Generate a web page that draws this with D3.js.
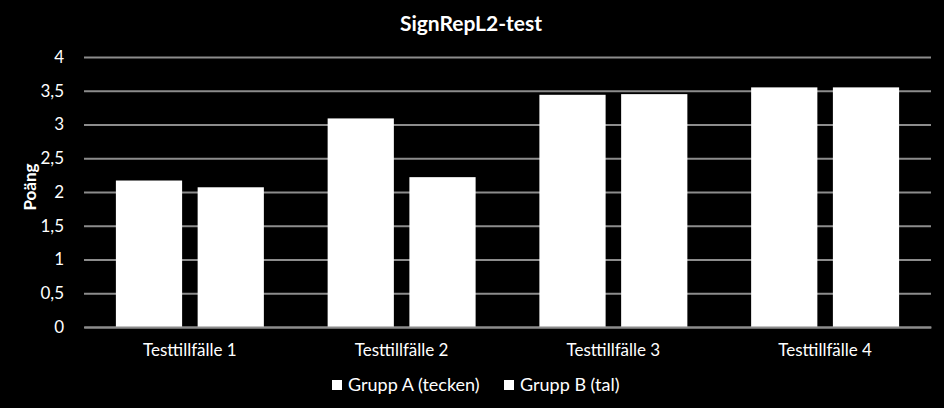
<!DOCTYPE html>
<html><head><meta charset="utf-8">
<script src="https://cdn.jsdelivr.net/npm/d3@7"></script>
<style>html,body{margin:0;padding:0;background:#000;}svg{display:block;}</style>
</head><body>
<svg id="c" width="944" height="408"></svg>
<script>
const categories = ["Testtillfälle 1","Testtillfälle 2","Testtillfälle 3","Testtillfälle 4"];
const seriesNames = ["Grupp A (tecken)","Grupp B (tal)"];
const grupA = [2.17, 3.09, 3.44, 3.55];
const grupB = [2.07, 2.22, 3.45, 3.55];
const yTicks = [0,0.5,1,1.5,2,2.5,3,3.5,4];
const title = "SignRepL2-test";
const yLabel = "Poäng";

const font = "Lato, sans-serif";
const svg = d3.select("#c");
svg.append("rect").attr("width",944).attr("height",408).attr("fill","#000");

const m = {l:84, r:13, t:57, b:81};
const W = 944, H = 408;
const x = d3.scaleBand().domain(categories).range([m.l, W-m.r]).paddingInner(0).paddingOuter(0);
const x1 = d3.scaleBand().domain(seriesNames).range([0, x.bandwidth()]).paddingInner(0.19).paddingOuter(0.39);
const y = d3.scaleLinear().domain([0,4]).range([H-m.b, m.t]);

const fmt = d => String(d).replace(".", ",");
const gy = svg.append("g").attr("transform",`translate(${m.l},0)`)
  .call(d3.axisLeft(y).tickValues(yTicks).tickFormat(fmt).tickSize(-(W-m.l-m.r)).tickPadding(20));
gy.select(".domain").remove();
gy.selectAll(".tick line").attr("stroke","#8c8c8c").attr("stroke-width",2);
gy.selectAll(".tick text").attr("fill","#fff").style("font-family",font).style("font-size","17px");

const data = categories.map((c,i)=>({c, vals:[grupA[i], grupB[i]]}));
const g = svg.append("g");
data.forEach(d=>{
  g.selectAll(null).data(d.vals.map((v,j)=>({s:seriesNames[j], v}))).enter().append("rect")
    .attr("x", e=> x(d.c)+x1(e.s))
    .attr("width", x1.bandwidth())
    .attr("y", e=> y(e.v))
    .attr("height", e=> y(0)-y(e.v))
    .attr("fill","#fff");
});

const gx = svg.append("g").attr("transform",`translate(0,${H-m.b})`)
  .call(d3.axisBottom(x).tickSize(0).tickPadding(17));
gx.select(".domain").attr("stroke","#8c8c8c").attr("stroke-width",2);
gx.selectAll(".tick text").attr("fill","#fff").style("font-family",font).style("font-size","17px");

svg.append("text").attr("x",471).attr("y",31).attr("text-anchor","middle")
  .attr("fill","#fff").style("font-family",font).style("font-size","21px").style("font-weight","bold").text(title);

svg.append("text").attr("transform",`translate(36,187) rotate(-90)`)
  .attr("text-anchor","middle").attr("fill","#fff").style("font-family",font)
  .style("font-size","17px").style("font-weight","bold").text(yLabel);

// legend
const legX = [332, 504];
const leg = svg.append("g");
seriesNames.forEach((s,i)=>{
  leg.append("rect").attr("x",legX[i]).attr("y",380).attr("width",10).attr("height",10).attr("fill","#fff");
  leg.append("text").attr("x",legX[i]+16).attr("y",391).attr("fill","#fff")
    .style("font-family",font).style("font-size","18px").text(s);
});
</script>
</body></html>
